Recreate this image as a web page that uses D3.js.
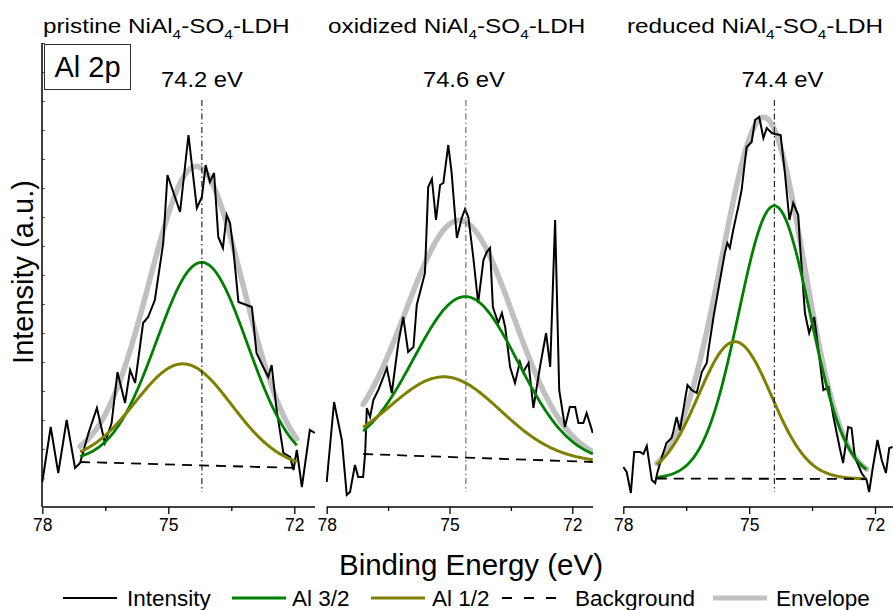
<!DOCTYPE html>
<html>
<head>
<meta charset="utf-8">
<script src="https://cdn.jsdelivr.net/npm/d3@7"></script>
<style>
  html, body { margin: 0; padding: 0; background: #fff; }
  svg { display: block; font-family: "Liberation Sans", Arial, sans-serif; }
</style>
</head>
<body>
<svg id="chart" width="893" height="610"></svg>
<script>
// ---- Al 2p XPS spectra: pristine / oxidized / reduced NiAl4-SO4-LDH ----

const samples = ["pristine", "oxidized", "reduced"];
const peakLabels = ["74.2 eV", "74.6 eV", "74.4 eV"];
const peakPositions = [74.2, 74.6, 74.4];

// x ticks (binding energy, eV)
const majorTicks = [78, 75, 72];
const minorTicks = [76.5, 73.5];

// measured spectra (binding energy eV, intensity a.u.)
const energyPristine = [78.00,77.80,77.62,77.42,77.22,77.10,76.90,76.70,76.51,76.35,76.21,76.03,75.91,75.79,75.60,75.48,75.32,75.12,75.02,74.72,74.52,74.32,74.20,74.11,74.01,73.91,73.81,73.70,73.61,73.53,73.45,73.33,73.01,72.90,72.74,72.62,72.54,72.42,72.26,72.10,72.02,71.94,71.82,71.63,71.51];
const intensityPristine = [25,80,34,87,39,44,74,99,64,84,135,104,137,124,184,190,207,264,332,295,372,299,310,342,325,334,270,259,292,284,257,205,200,154,140,130,142,97,54,50,37,57,20,77,74];

const energyOxidized = [78.00,77.82,77.63,77.51,77.43,77.31,77.23,77.11,77.06,77.02,76.94,76.86,76.74,76.53,76.41,76.25,76.13,76.01,75.88,75.80,75.60,75.52,75.43,75.33,75.23,75.15,75.03,74.95,74.82,74.70,74.62,74.54,74.42,74.30,74.17,74.09,74.01,73.94,73.81,73.72,73.64,73.52,73.40,73.28,73.20,73.07,72.95,72.79,72.64,72.54,72.42,72.32,72.18,72.06,71.93,71.85,71.73,71.65,71.50];
const intensityOxidized = [25,105,67,12,15,42,30,30,54,99,90,107,117,139,114,164,190,155,160,202,234,320,328,287,322,324,362,335,269,289,298,290,250,204,247,255,259,200,184,194,180,140,124,145,135,144,99,140,174,140,287,117,80,100,100,84,84,94,74];

const energyReduced = [78.00,77.92,77.82,77.74,77.60,77.52,77.44,77.32,77.24,77.19,77.08,76.97,76.85,76.81,76.73,76.65,76.47,76.37,76.25,76.13,76.01,75.97,75.85,75.58,75.52,75.46,75.38,75.26,75.18,75.06,74.94,74.86,74.76,74.66,74.58,74.46,74.38,74.25,74.15,74.04,73.95,73.83,73.79,73.67,73.57,73.45,73.31,73.23,73.11,72.99,72.83,72.76,72.64,72.56,72.48,72.32,72.20,72.14,72.05,71.94,71.84,71.74,71.66,71.58];
const intensityReduced = [40,35,14,55,55,53,61,27,24,34,50,64,69,75,90,77,122,117,114,135,144,157,190,254,264,259,277,300,317,360,365,387,390,369,379,374,373,372,335,287,304,292,264,194,174,190,144,117,120,90,57,44,80,79,50,34,27,15,40,67,47,34,59,60];

// fit window and linear background end levels
const fitStart = [77.10, 77.11, 77.20];
const fitEnd = [71.94, 71.50, 72.20];
const bgStartLevel = [45, 53, 28.5];
const bgEndLevel = [39, 45, 28];

// fitted Gaussian components: centre (eV), height (a.u.), sigma (eV)
const al32Center = [74.2, 74.6, 74.4];
const al32Height = [203, 161, 273];
const al32Sigma = [1.08, 1.27, 0.85];
const al12Center = [74.64, 75.11, 75.34];
const al12Height = [101, 80, 137];
const al12Sigma = [1.15, 1.35, 0.87];

const legendLabels = ["Intensity", "Al 3/2", "Al 1/2", "Background", "Envelope"];

// ---- layout ----
const svg = d3.select("#chart");
const yBottom = 507, yTop = 43;
const panelRanges = [[42.3, 294.3], [326.7, 572.3], [623.3, 875]]; // pixel span of 78 -> 72 eV
const axisEnds = [315, 593, 893];
const titleX = [43, 328, 627];
const labelShift = [0, -2, 8];

const y = d3.scaleLinear().domain([0, 464]).range([yBottom, yTop]);

const spectra = [
  d3.zip(energyPristine, intensityPristine),
  d3.zip(energyOxidized, intensityOxidized),
  d3.zip(energyReduced, intensityReduced)
];

const gauss = (e, c, h, s) => h * Math.exp(-((e - c) ** 2) / (2 * s * s));

samples.forEach((name, i) => {
  const [r0, r1] = panelRanges[i];
  const x = d3.scaleLinear().domain([78, 72]).range([r0, r1]);
  const g = svg.append("g");

  const clipId = "clip" + i;
  svg.append("clipPath").attr("id", clipId).append("rect")
    .attr("x", r0 - 1).attr("y", 0)
    .attr("width", axisEnds[i] - r0 + 1).attr("height", yBottom);

  const plot = g.append("g").attr("clip-path", `url(#${clipId})`);

  // model curves on the fit window
  const bg = e => bgStartLevel[i] + (bgEndLevel[i] - bgStartLevel[i]) * (fitStart[i] - e) / (fitStart[i] - fitEnd[i]);
  const grid = d3.range(fitStart[i], fitEnd[i] - 0.001, -0.025);
  if (grid[grid.length - 1] > fitEnd[i]) grid.push(fitEnd[i]);
  const a32 = e => bg(e) + gauss(e, al32Center[i], al32Height[i], al32Sigma[i]);
  const a12 = e => bg(e) + gauss(e, al12Center[i], al12Height[i], al12Sigma[i]);
  const env = e => bg(e) + gauss(e, al32Center[i], al32Height[i], al32Sigma[i]) + gauss(e, al12Center[i], al12Height[i], al12Sigma[i]);

  const line = fn => d3.line().x(e => x(e)).y(e => y(fn(e)))(grid);

  // envelope (thick grey)
  plot.append("path").attr("d", line(env))
    .attr("fill", "none").attr("stroke", "#c0c0c0").attr("stroke-width", 5.5)
    .attr("stroke-linejoin", "round").attr("stroke-linecap", "round");

  // measured intensity
  plot.append("path")
    .attr("d", d3.line().x(d => x(d[0])).y(d => y(d[1]))(spectra[i]))
    .attr("fill", "none").attr("stroke", "#000").attr("stroke-width", 2);

  // components
  plot.append("path").attr("d", line(a32))
    .attr("fill", "none").attr("stroke", "#008000").attr("stroke-width", 2.8);
  plot.append("path").attr("d", line(a12))
    .attr("fill", "none").attr("stroke", "#808000").attr("stroke-width", 3);

  // background
  plot.append("path")
    .attr("d", d3.line().x(e => x(e)).y(e => y(bg(e)))([fitStart[i], fitEnd[i]]))
    .attr("fill", "none").attr("stroke", "#000").attr("stroke-width", 1.8)
    .attr("stroke-dasharray", "10,7");

  // peak position marker
  g.append("line")
    .attr("x1", x(peakPositions[i])).attr("x2", x(peakPositions[i]))
    .attr("y1", 100).attr("y2", 492)
    .attr("stroke", i === 1 ? "#555" : "#000").attr("stroke-width", 1)
    .attr("stroke-dasharray", "6,3,1.5,3");

  g.append("text")
    .attr("transform", `translate(${x(peakPositions[i]) + labelShift[i]},87) scale(1.08,1)`)
    .attr("text-anchor", "middle").attr("font-size", 22)
    .text(peakLabels[i]);

  // x axis
  const axisG = g.append("g").attr("transform", `translate(0,${yBottom})`)
    .call(d3.axisBottom(x).tickValues(majorTicks).tickSize(7).tickPadding(5).tickFormat(d3.format("d")));
  axisG.select(".domain").remove();
  axisG.selectAll("text").attr("font-size", 17.5).attr("font-family", "Liberation Sans, Arial, sans-serif").attr("fill", "#000");
  axisG.selectAll("line").attr("stroke-width", 1.3);
  const minorG = g.append("g").attr("transform", `translate(0,${yBottom})`)
    .call(d3.axisBottom(x).tickValues(minorTicks).tickSize(4).tickFormat(""));
  minorG.select(".domain").remove();
  minorG.selectAll("line").attr("stroke-width", 1.3);
  g.append("line").attr("x1", r0).attr("x2", axisEnds[i])
    .attr("y1", yBottom).attr("y2", yBottom)
    .attr("stroke", "#000").attr("stroke-width", 1.5);

  // panel title with subscripts
  const t = svg.append("text")
    .attr("transform", `translate(${titleX[i]},33) scale(1.185,1)`)
    .attr("font-size", 20.5);
  t.append("tspan").text(name + " NiAl");
  t.append("tspan").attr("dy", 6).attr("font-size", 13).text("4");
  t.append("tspan").attr("dy", -6).text("-SO");
  t.append("tspan").attr("dy", 6).attr("font-size", 13).text("4");
  t.append("tspan").attr("dy", -6).text("-LDH");
});

// y axis of the first panel (unlabelled intensity)
const yAxisG = svg.append("g").attr("transform", "translate(42,0)")
  .call(d3.axisLeft(y).tickValues(d3.range(0, 465, 29)).tickSize(-3).tickFormat(""));
yAxisG.select(".domain").remove();
yAxisG.selectAll("line").attr("stroke", "#555");
svg.append("line").attr("x1", 42).attr("x2", 42).attr("y1", yTop).attr("y2", yBottom)
  .attr("stroke", "#000").attr("stroke-width", 1.5);

// "Al 2p" box
svg.append("rect").attr("x", 44.5).attr("y", 44.5).attr("width", 86).attr("height", 45)
  .attr("fill", "#fff").attr("stroke", "#333").attr("stroke-width", 1);
svg.append("text").attr("x", 87.5).attr("y", 77).attr("text-anchor", "middle")
  .attr("font-size", 29).text("Al 2p");

// axis titles
svg.append("text").attr("transform", "translate(33,272) rotate(-90)")
  .attr("text-anchor", "middle").attr("font-size", 29).text("Intensity (a.u.)");
svg.append("text").attr("x", 471).attr("y", 575)
  .attr("text-anchor", "middle").attr("font-size", 29.5).text("Binding Energy (eV)");

// legend
const legendX = [63, 232, 371, 502, 713];
const legendTextX = [127, 292, 432, 575, 776];
const legendStyles = [
  { stroke: "#000", width: 2, dash: null },
  { stroke: "#008000", width: 3, dash: null },
  { stroke: "#808000", width: 3, dash: null },
  { stroke: "#000", width: 2, dash: "10,12" },
  { stroke: "#c0c0c0", width: 5, dash: null }
];
const lg = svg.append("g");
legendLabels.forEach((lab, k) => {
  const s = legendStyles[k];
  lg.append("line").attr("x1", legendX[k]).attr("x2", legendX[k] + 54)
    .attr("y1", 598).attr("y2", 598)
    .attr("stroke", s.stroke).attr("stroke-width", s.width)
    .attr("stroke-dasharray", s.dash);
  lg.append("text").attr("x", legendTextX[k]).attr("y", 606)
    .attr("font-size", 22.5).text(lab);
});
</script>
</body>
</html>
